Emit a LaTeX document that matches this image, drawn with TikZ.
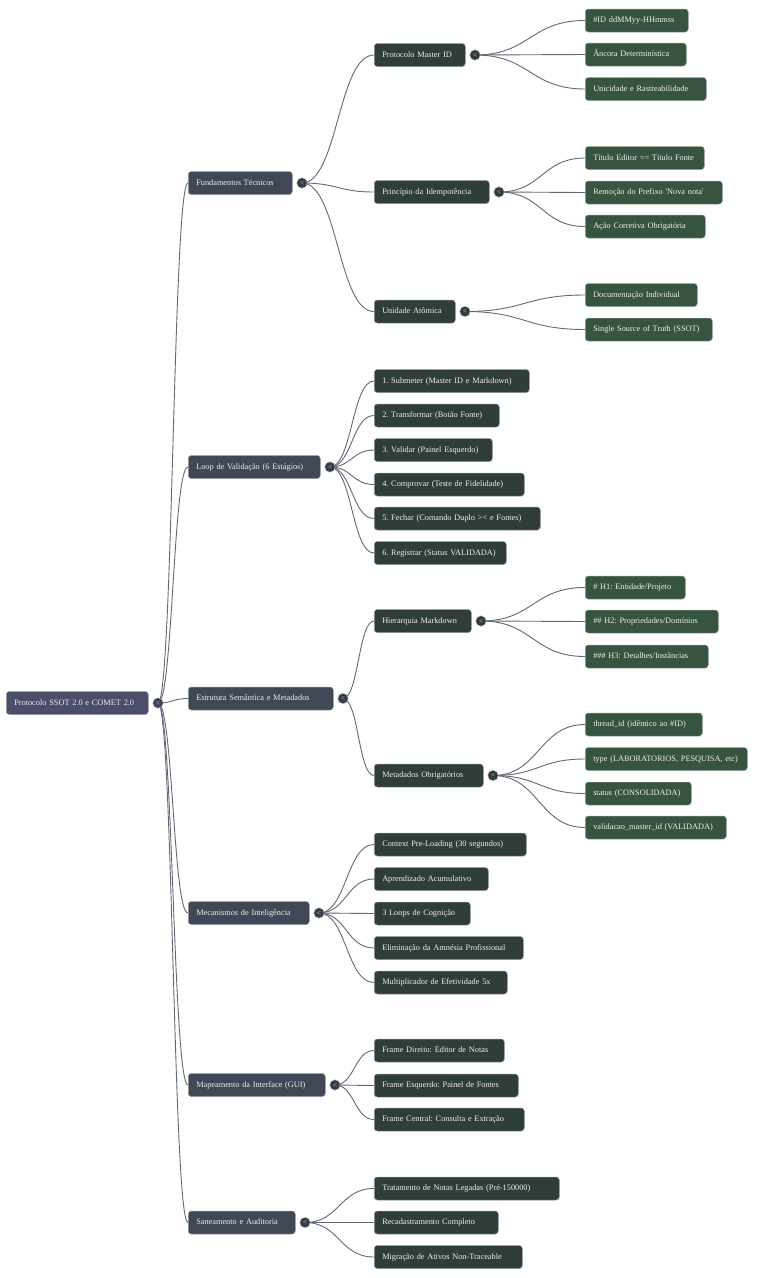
\documentclass[tikz,border=0pt]{standalone}
\usepackage{fontspec}
\setmainfont{Liberation Serif}
\usetikzlibrary{calc}
\pgfdeclarelayer{bg}
\pgfsetlayers{bg,main}
\definecolor{croot}{HTML}{4B4E69}
\definecolor{cone}{HTML}{414855}
\definecolor{ctwo}{HTML}{2F3E39}
\definecolor{cleaf}{HTML}{365440}
\definecolor{cline}{HTML}{626874}
\tikzset{
 box/.style={rounded corners=3pt, draw=#1!55!white, line width=0.5pt, fill=#1, text=white!93!black,
   font=\fontsize{8.3}{10}\selectfont\frenchspacing, inner xsep=8pt, inner ysep=0pt, minimum height=23pt,
   text height=6.2pt, text depth=1.8pt, align=left, anchor=west},
 tog/.style={circle, fill=#1, draw=white!75!black, line width=0.4pt, minimum size=10.5pt, inner sep=0pt,
   text=white!85!black, font=\fontsize{7}{7}\selectfont},
 conn/.style={draw=cline, line width=0.9pt},
}
\newcommand\mmnode[6]{%
 \pgfmathsetlengthmacro\mmw{#4-#3-16}%
 \node[box=#2, text width=\mmw] (#1) at (#3,#5) {\mbox{#6}};}
\newcommand\mmtog[2]{%
 \node[tog=#2] (#1t) at ($(#1.east)+(9.5,0)$) {<};}
\newcommand\mmconn[2]{%
 \begin{pgfonlayer}{bg}\draw[conn] let \p1=(#1t.center), \p2=(#2.west) in
 (\p1) .. controls ({(\x1+\x2)/2},\y1) and ({(\x1+\x2)/2},\y2) .. (\p2);\end{pgfonlayer}}
\begin{document}
\begin{tikzpicture}[x=1pt,y=-1pt]
\useasboundingbox (0,0) rectangle (768,1278);
% root
\mmnode{root}{croot}{6}{148}{703}{Protocolo SSOT 2.0 e COMET 2.0}
\mmtog{root}{croot!85!black}
% level 1
\mmnode{fund}{cone}{188}{292}{183}{Fundamentos Técnicos}
\mmnode{loop}{cone}{188}{320}{467}{Loop de Validação (6 Estágios)}
\mmnode{estr}{cone}{188}{333}{698.5}{Estrutura Semântica e Metadados}
\mmnode{meca}{cone}{188}{309}{913}{Mecanismos de Inteligência}
\mmnode{mapa}{cone}{188}{325}{1085}{Mapeamento da Interface (GUI)}
\mmnode{sane}{cone}{188}{295}{1222.5}{Saneamento e Auditoria}
\foreach \k in {fund,loop,estr,meca,mapa,sane}{\mmtog{\k}{cone!85!black}}
\foreach \k in {fund,loop,estr,meca,mapa,sane}{\mmconn{root}{\k}}
% Fundamentos
\mmnode{pmid}{ctwo}{374}{465}{55}{Protocolo Master ID}
\mmnode{pidm}{ctwo}{374}{489}{192}{Princípio da Idempotência}
\mmnode{unat}{ctwo}{374}{455}{311.5}{Unidade Atômica}
\foreach \k in {pmid,pidm,unat}{\mmtog{\k}{ctwo}\mmconn{fund}{\k}}
\mmnode{pm1}{cleaf}{585}{688}{20.5}{\#ID ddMMyy-HHmmss}
\mmnode{pm2}{cleaf}{585}{686}{54.5}{Âncora Determinística}
\mmnode{pm3}{cleaf}{585}{706}{89}{Unicidade e Rastreabilidade}
\foreach \k in {pm1,pm2,pm3}{\mmconn{pmid}{\k}}
\mmnode{pi1}{cleaf}{585}{704}{158}{Título Editor == Título Fonte}
\mmnode{pi2}{cleaf}{585}{722}{192.5}{Remoção do Prefixo \textquotesingle Nova nota\textquotesingle}
\mmnode{pi3}{cleaf}{585}{705}{226.5}{Ação Corretiva Obrigatória}
\foreach \k in {pi1,pi2,pi3}{\mmconn{pidm}{\k}}
\mmnode{ua1}{cleaf}{585}{697}{295}{Documentação Individual}
\mmnode{ua2}{cleaf}{585}{712}{329.5}{Single Source of Truth (SSOT)}
\foreach \k in {ua1,ua2}{\mmconn{unat}{\k}}
% Loop
\mmnode{lp1}{ctwo}{374}{529}{381}{1. Submeter (Master ID e Markdown)}
\mmnode{lp2}{ctwo}{374}{499}{415.5}{2. Transformar (Botão Fonte)}
\mmnode{lp3}{ctwo}{374}{492}{450}{3. Validar (Painel Esquerdo)}
\mmnode{lp4}{ctwo}{374}{524}{484.5}{4. Comprovar (Teste de Fidelidade)}
\mmnode{lp5}{ctwo}{374}{540}{518.5}{5. Fechar (Comando Duplo >< e Fontes)}
\mmnode{lp6}{ctwo}{374}{506}{553}{6. Registrar (Status VALIDADA)}
\foreach \k in {lp1,lp2,lp3,lp4,lp5,lp6}{\mmconn{loop}{\k}}
% Estrutura
\mmnode{hier}{ctwo}{374}{471}{621}{Hierarquia Markdown}
\mmnode{meta}{ctwo}{374}{483}{775.5}{Metadados Obrigatórios}
\foreach \k in {hier,meta}{\mmtog{\k}{ctwo}\mmconn{estr}{\k}}
\mmnode{hm1}{cleaf}{585}{685}{587.5}{\# H1: Entidade/Projeto}
\mmnode{hm2}{cleaf}{585}{718}{621.5}{\#\# H2: Propriedades/Domínios}
\mmnode{hm3}{cleaf}{585}{708}{656.5}{\#\#\# H3: Detalhes/Instâncias}
\foreach \k in {hm1,hm2,hm3}{\mmconn{hier}{\k}}
\mmnode{mo1}{cleaf}{585}{702}{724.5}{thread\_id (idêntico ao \#ID)}
\mmnode{mo2}{cleaf}{585}{747}{759}{type (LABORATORIOS, PESQUISA, etc)}
\mmnode{mo3}{cleaf}{585}{691}{793.5}{status (CONSOLIDADA)}
\mmnode{mo4}{cleaf}{585}{726}{827.5}{validacao\_master\_id (VALIDADA)}
\foreach \k in {mo1,mo2,mo3,mo4}{\mmconn{meta}{\k}}
% Mecanismos
\mmnode{mc1}{ctwo}{374}{526}{844.5}{Context Pre-Loading (30 segundos)}
\mmnode{mc2}{ctwo}{374}{488}{879}{Aprendizado Acumulativo}
\mmnode{mc3}{ctwo}{374}{470}{913.5}{3 Loops de Cognição}
\mmnode{mc4}{ctwo}{374}{523}{948}{Eliminação da Amnésia Profissional}
\mmnode{mc5}{ctwo}{374}{507}{982.5}{Multiplicador de Efetividade 5x}
\foreach \k in {mc1,mc2,mc3,mc4,mc5}{\mmconn{meca}{\k}}
% Mapeamento
\mmnode{mp1}{ctwo}{374}{504}{1050.5}{Frame Direito: Editor de Notas}
\mmnode{mp2}{ctwo}{374}{518}{1085.5}{Frame Esquerdo: Painel de Fontes}
\mmnode{mp3}{ctwo}{374}{524}{1119.5}{Frame Central: Consulta e Extração}
\foreach \k in {mp1,mp2,mp3}{\mmconn{mapa}{\k}}
% Saneamento
\mmnode{sn1}{ctwo}{374}{559}{1188.5}{Tratamento de Notas Legadas (Pré-150000)}
\mmnode{sn2}{ctwo}{374}{498}{1222.5}{Recadastramento Completo}
\mmnode{sn3}{ctwo}{374}{522}{1257}{Migração de Ativos Non-Traceable}
\foreach \k in {sn1,sn2,sn3}{\mmconn{sane}{\k}}
\end{tikzpicture}
\end{document}
